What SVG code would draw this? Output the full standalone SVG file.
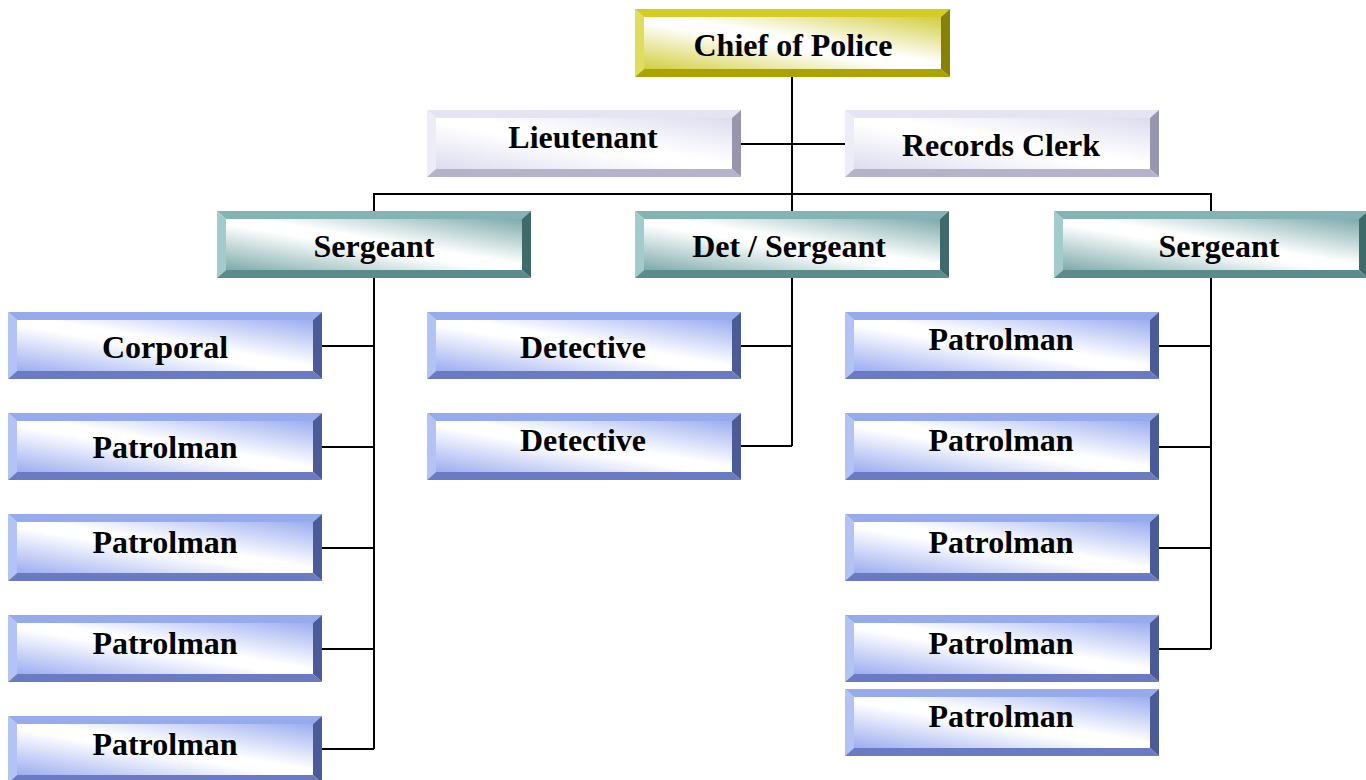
<svg xmlns="http://www.w3.org/2000/svg" width="1366" height="780" viewBox="0 0 1366 780">
<defs>
<linearGradient id="gY" x1="0" y1="1" x2="1" y2="0"><stop offset="0" stop-color="#d2ce40"/><stop offset="0.45" stop-color="#ffffff"/><stop offset="0.55" stop-color="#ffffff"/><stop offset="1" stop-color="#d2ce40"/></linearGradient>
<linearGradient id="gL" x1="0" y1="1" x2="1" y2="0"><stop offset="0" stop-color="#dcdcef"/><stop offset="0.45" stop-color="#ffffff"/><stop offset="0.55" stop-color="#ffffff"/><stop offset="1" stop-color="#dcdcef"/></linearGradient>
<linearGradient id="gT" x1="0" y1="1" x2="1" y2="0"><stop offset="0" stop-color="#7eaaaa"/><stop offset="0.45" stop-color="#ffffff"/><stop offset="0.55" stop-color="#ffffff"/><stop offset="1" stop-color="#7eaaaa"/></linearGradient>
<linearGradient id="gB" x1="0" y1="1" x2="1" y2="0"><stop offset="0" stop-color="#9cadf0"/><stop offset="0.45" stop-color="#ffffff"/><stop offset="0.55" stop-color="#ffffff"/><stop offset="1" stop-color="#9cadf0"/></linearGradient>
<g id="bev">
<polygon style="fill:var(--t)" points="0,0 314,0 305,8 9,8"/>
<polygon style="fill:var(--l)" points="0,0 9,8 9,59 0,67"/>
<polygon style="fill:var(--r)" points="314,0 314,67 305,59 305,8"/>
<polygon style="fill:var(--b)" points="0,67 9,59 305,59 314,67"/>
<rect style="fill:var(--f)" x="9" y="8" width="296" height="51"/>
</g>
</defs>
<style>
text{font-family:"Liberation Serif","Times New Roman",serif;font-weight:bold;font-size:32px;text-anchor:middle;fill:#000}
.conn{stroke:#000;stroke-width:2;fill:none}
.L{--t:#e4e4f3;--l:#ededf8;--r:#9896ae;--b:#b5b3c9;--f:url(#gL)}
.T{--t:#84b3b3;--l:#a4cbcb;--r:#3f6a6a;--b:#5b8c8c;--f:url(#gT)}
.B{--t:#95abec;--l:#b3c3f4;--r:#4b5b97;--b:#6a7bc3;--f:url(#gB)}
</style>
<g id="connectors">
<path class="conn" d="M792,77 V211 M741,144 H845 M374,211 V194 H1211 V211"/>
<path class="conn" d="M374,278 V749 M322,346 H374 M322,447 H374 M322,548 H374 M322,649 H374 M322,749 H374"/>
<path class="conn" d="M792,278 V446 M741,346 H792 M741,446 H792"/>
<path class="conn" d="M1211,278 V649 M1159,346 H1211 M1159,447 H1211 M1159,548 H1211 M1159,649 H1211"/>
</g>
<g id="chief" transform="translate(635,9)"><polygon fill="#d4cc22" points="0,0 315,0 306,8 9,8"/><polygon fill="#e0dc5e" points="0,0 9,8 9,60 0,68"/><polygon fill="#878000" points="315,0 315,68 306,60 306,8"/><polygon fill="#aaa300" points="0,68 9,60 306,60 315,68"/><rect fill="url(#gY)" x="9" y="8" width="297" height="52"/><text x="158" y="47">Chief of Police</text></g>
<g id="lieutenant" class="L" transform="translate(427,110)"><use href="#bev"/><text x="156" y="38">Lieutenant</text></g>
<g id="records" class="L" transform="translate(845,110)"><use href="#bev"/><text x="156" y="46">Records Clerk</text></g>
<g id="sergeant1" class="T" transform="translate(217,211)"><use href="#bev"/><text x="157" y="46">Sergeant</text></g>
<g id="detsergeant" class="T" transform="translate(635,211)"><use href="#bev"/><text x="154" y="46">Det / Sergeant</text></g>
<g id="sergeant2" class="T" transform="translate(1054,211)"><use href="#bev"/><text x="165" y="46">Sergeant</text></g>
<g id="corporal" class="B" transform="translate(8,312)"><use href="#bev"/><text x="157" y="46">Corporal</text></g>
<g id="patrolL1" class="B" transform="translate(8,413)"><use href="#bev"/><text x="157" y="45">Patrolman</text></g>
<g id="patrolL2" class="B" transform="translate(8,514)"><use href="#bev"/><text x="157" y="39">Patrolman</text></g>
<g id="patrolL3" class="B" transform="translate(8,615)"><use href="#bev"/><text x="157" y="39">Patrolman</text></g>
<g id="patrolL4" class="B" transform="translate(8,716)"><use href="#bev"/><text x="157" y="39">Patrolman</text></g>
<g id="detective1" class="B" transform="translate(427,312)"><use href="#bev"/><text x="156" y="46">Detective</text></g>
<g id="detective2" class="B" transform="translate(427,413)"><use href="#bev"/><text x="156" y="38">Detective</text></g>
<g id="patrolR1" class="B" transform="translate(845,312)"><use href="#bev"/><text x="156" y="38">Patrolman</text></g>
<g id="patrolR2" class="B" transform="translate(845,413)"><use href="#bev"/><text x="156" y="38">Patrolman</text></g>
<g id="patrolR3" class="B" transform="translate(845,514)"><use href="#bev"/><text x="156" y="39">Patrolman</text></g>
<g id="patrolR4" class="B" transform="translate(845,615)"><use href="#bev"/><text x="156" y="39">Patrolman</text></g>
<g id="patrolR5" class="B" transform="translate(845,689)"><use href="#bev"/><text x="156" y="38">Patrolman</text></g>
</svg>
